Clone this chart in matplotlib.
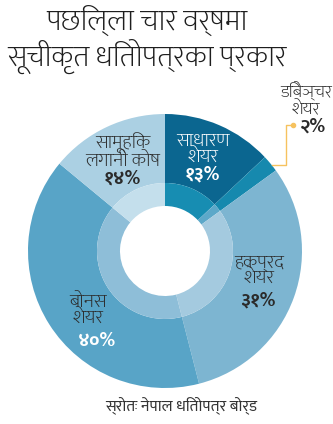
import matplotlib
matplotlib.use('Agg')
import matplotlib.pyplot as plt
from matplotlib import font_manager

# Share types listed in the report, as percentages
labels = ['साधारण\nशेयर', 'डिबेञ्चर\nशेयर', 'हकप्रद\nशेयर', 'बोनस\nशेयर', 'सामूहिक\nलगानी कोष']
values = [13, 2, 31, 40, 14]
pct_text = ['१३%', '२%', '३१%', '४०%', '१४%']

outer_colors = ['#0b6690', '#1689ae', '#7db5d1', '#58a4c7', '#abd0e3']
inner_colors = ['#178db2', '#5ca8c9', '#a4cadf', '#8ebed8', '#c4dfec']

# pick a font with Devanagari glyphs
available = {f.name for f in font_manager.fontManager.ttflist}
deva = [n for n in ['Mukta', 'Noto Sans Devanagari', 'Hind'] if n in available]
plt.rcParams['font.family'] = deva + ['DejaVu Sans']

W, H = 333, 424
fig = plt.figure(figsize=(W / 100, H / 100), dpi=100)
fig.patch.set_facecolor('white')

# donut centred at (165, 251) px from top-left, radius 137 px
cx, cy, r = 165, 251, 137
ax = fig.add_axes([(cx - r) / W, (H - cy - r) / H, 2 * r / W, 2 * r / H])
ax.axis('off')

r_mid = 68 / 137
r_hole = 45 / 137
ax.pie(values, radius=1, colors=outer_colors, startangle=90, counterclock=False,
       wedgeprops=dict(width=1 - r_mid, linewidth=0))
ax.pie(values, radius=r_mid, colors=inner_colors, startangle=90, counterclock=False,
       wedgeprops=dict(width=r_mid - r_hole, linewidth=0))
ax.set_xlim(-1, 1)
ax.set_ylim(-1, 1)
ax.set_aspect('equal')


def px(x, y):
    # figure pixel position -> figure fraction
    return x / W, 1 - y / H


dark = '#2b2b2b'

# label positions (pixels): name centre, number centre, colours, size
placements = [
    ((203, 150), (202, 175), 'white', 'white', 14),
    ((306, 100), (313, 127), dark, dark, 13),
    ((259, 271), (258, 301), dark, dark, 14),
    ((88, 311), (97, 341), dark, 'white', 14),
    ((123, 151), (122, 179), dark, dark, 14),
]
for lab, pct, (npos, ppos, c1, c2, size) in zip(labels, pct_text, placements):
    fig.text(*px(*npos), lab, ha='center', va='center', fontsize=size,
             color=c1, linespacing=1.0, fontweight='light')
    fig.text(*px(*ppos), pct, ha='center', va='center', fontsize=14,
             color=c2, fontweight='bold')

# leader line for the small debenture slice
line_x = [272, 286, 286, 292]
line_y = [165, 165, 125, 125]
fig.add_artist(plt.Line2D([x / W for x in line_x], [1 - y / H for y in line_y],
                          color='#f6c25f', linewidth=1.0))
fig.add_artist(plt.Line2D([293 / W], [1 - 125 / H], marker='o', markersize=3,
                          color='#f6c25f', linestyle='none'))

# title
fig.text(*px(147, 22), 'पछिल्ला चार वर्षमा', ha='center', va='center',
         fontsize=21.5, color='#1e1e1e', fontweight='light')
fig.text(*px(147, 56), 'सूचीकृत धितोपत्रका प्रकार', ha='center', va='center',
         fontsize=21.5, color='#1e1e1e', fontweight='light')

# source
fig.text(*px(181, 405), 'स्रोतः नेपाल धितोपत्र बोर्ड', ha='center', va='center',
         fontsize=11.5, color='#333333')

fig.savefig('out.png', dpi=100, facecolor='white')
